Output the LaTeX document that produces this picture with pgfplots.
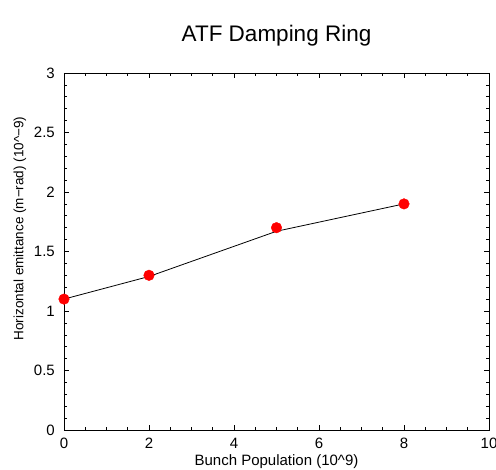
\documentclass[border=0pt]{standalone}
\usepackage{pgfplots}
\pgfplotsset{compat=1.18}
\usepackage{fontspec}
\setmainfont{Liberation Sans}

\begin{document}
\begin{tikzpicture}
\begin{axis}[
    scale only axis,
    width=425bp, height=357bp,
    xmin=0, xmax=10, ymin=0, ymax=3,
    xtick={0,2,...,10},
    ytick={0,0.5,...,3},
    minor x tick num=3,
    minor y tick num=4,
    tick align=inside,
    major tick length=5bp,
    minor tick length=3bp,
    tick style={black, line width=0.6pt},
    axis line style={line width=0.8pt},
    /pgf/number format/assume math mode=true,
    ticklabel style={font=\fontsize{15bp}{17bp}\selectfont},
    xticklabel style={anchor=center, yshift=-13bp},
    yticklabel style={anchor=east, inner sep=0pt, xshift=-9bp},
    xlabel={Bunch Population (10\^{}9)},
    ylabel={Horizontal emittance (m\textminus rad) (10\^{}\textminus 9)},
    xlabel style={font=\fontsize{15bp}{17bp}\selectfont, at={(axis description cs:0.5,0)}, anchor=center, yshift=-32bp},
    ylabel style={font=\fontsize{13.5bp}{15bp}\selectfont, at={(axis description cs:0,0.5)}, anchor=center, xshift=23bp, yshift=44bp},
    title={ATF Damping Ring},
    title style={font=\fontsize{22.5bp}{25bp}\selectfont, at={(axis description cs:0.5,1)}, anchor=center, yshift=31bp},
]
% fitted curve
\addplot[black, line width=0.8pt, mark=none] coordinates {
  (0,1.10) (2,1.29) (5,1.67) (8,1.90)
};
% measured points
\addplot[only marks, mark=*, mark size=5.3bp, red, mark options={fill=red, draw=red}] coordinates {
  (0,1.1) (2,1.3) (5,1.7) (8,1.9)
};
\end{axis}
\pgfresetboundingbox
\path[use as bounding box] (current axis.south west) ++(-64bp,-40bp) rectangle ([shift={(7bp,73bp)}]current axis.north east);
\end{tikzpicture}
\end{document}
